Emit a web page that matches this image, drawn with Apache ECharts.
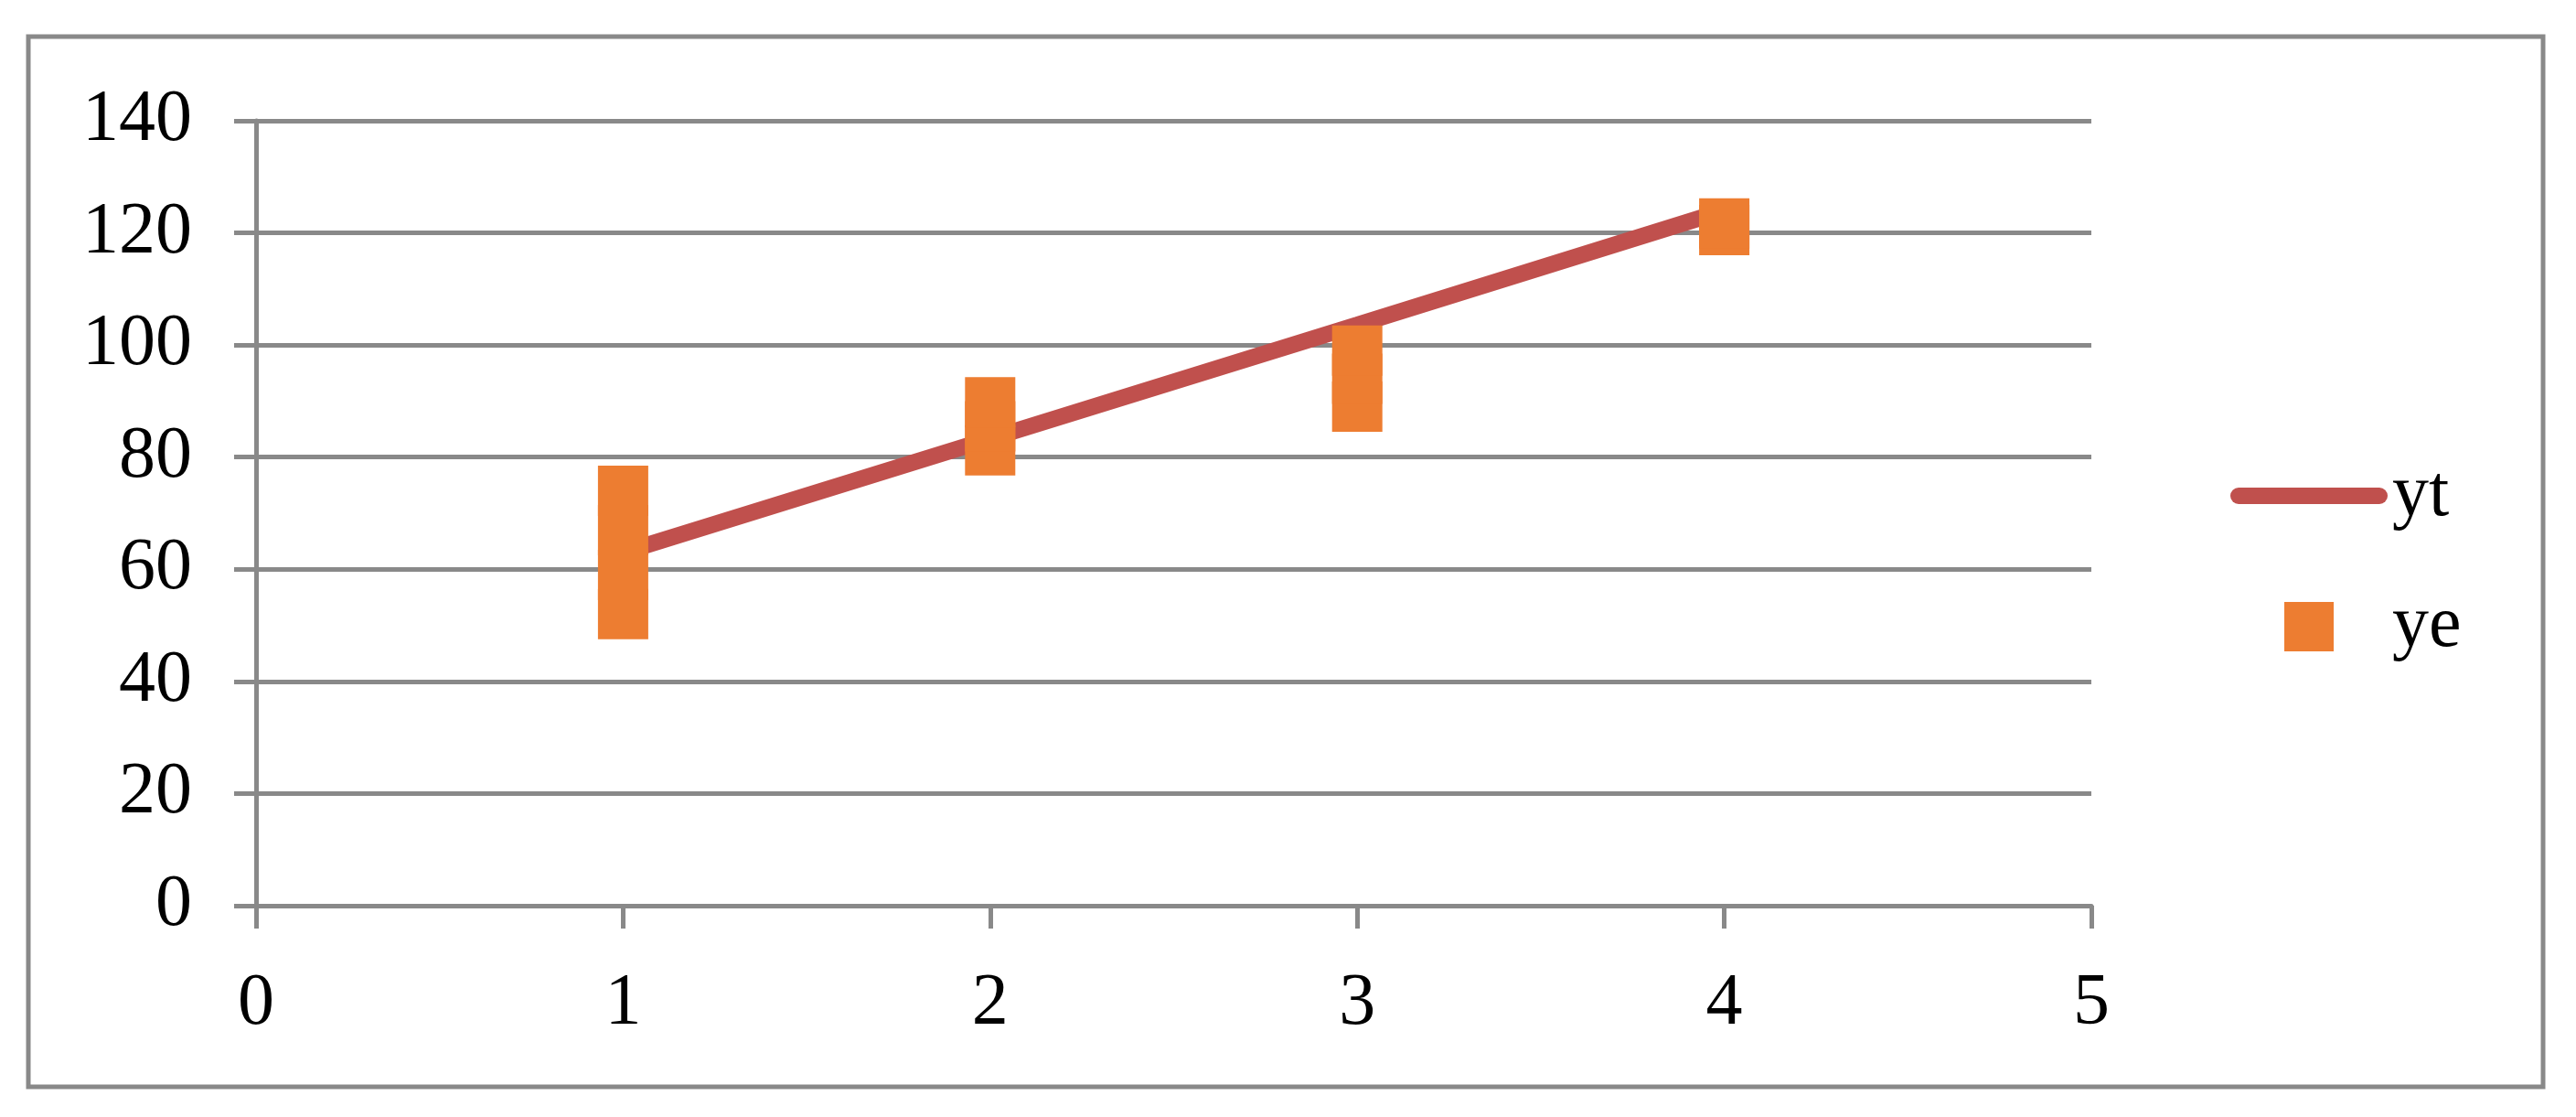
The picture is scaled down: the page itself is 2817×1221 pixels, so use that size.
<!DOCTYPE html>
<html>
<head>
<meta charset="utf-8">
<script src="https://cdn.jsdelivr.net/npm/echarts@6/dist/echarts.min.js"></script>
<style>
html,body{margin:0;padding:0;background:#fff;}
#chart{width:2817px;height:1221px;}
</style>
</head>
<body>
<div id="chart"></div>
<script>
// Data
const seriesNames = ['yt', 'ye'];
const ytX = [1, 2, 3, 4];
const ytValues = [63, 83.3, 103.6, 124];
const yeX = [1, 1, 1, 1, 2, 2, 2, 3, 3, 3, 4, 4];
const yeValues = [52, 59, 67, 74, 81.2, 85.5, 89.8, 89, 94, 99, 120.5, 121.7];
const xAxisRange = [0, 5, 1];     // min, max, interval
const yAxisRange = [0, 140, 20];  // min, max, interval

const FONT = '"Liberation Serif", "Times New Roman", serif';
const GRAY = '#898989';

const chart = echarts.init(document.getElementById('chart'), null, {renderer: 'canvas'});
chart.setOption({
  backgroundColor: '#ffffff',
  animation: false,
  graphic: [{
    type: 'rect',
    shape: {x: 31, y: 40, width: 2750, height: 1148},
    style: {fill: 'none', stroke: GRAY, lineWidth: 5},
    z: -1
  }],
  grid: {left: 280, top: 132, right: 530, bottom: 231, containLabel: false},
  legend: {
    orient: 'vertical',
    left: 2434,
    top: 497,
    itemWidth: 172,
    itemHeight: 54,
    itemGap: 63,
    symbolKeepAspect: true,
    textStyle: {fontFamily: FONT, fontSize: 80, color: '#000'},
    data: [
      {name: seriesNames[0], icon: 'path://M9,0L163,0A9,9 0 0 1 163,18L9,18A9,9 0 0 1 9,0Z'},
      {name: seriesNames[1], icon: 'path://M0,0L10,0L10,10L0,10Z'}
    ]
  },
  xAxis: {
    type: 'value',
    min: xAxisRange[0], max: xAxisRange[1], interval: xAxisRange[2],
    axisLine: {show: true, lineStyle: {color: GRAY, width: 5}},
    axisTick: {show: true, length: 25, lineStyle: {color: GRAY, width: 5}},
    splitLine: {show: false},
    axisLabel: {fontFamily: FONT, fontSize: 80, color: '#000', margin: 68}
  },
  yAxis: {
    type: 'value',
    min: yAxisRange[0], max: yAxisRange[1], interval: yAxisRange[2],
    axisLine: {show: true, lineStyle: {color: GRAY, width: 5}},
    axisTick: {show: true, length: 24, lineStyle: {color: GRAY, width: 5}},
    splitLine: {show: true, lineStyle: {color: GRAY, width: 5}},
    axisLabel: {fontFamily: FONT, fontSize: 80, color: '#000', margin: 70}
  },
  series: [
    {
      name: seriesNames[0],
      type: 'line',
      data: ytX.map((x, i) => [x, ytValues[i]]),
      showSymbol: false,
      symbol: 'none',
      lineStyle: {color: '#C0504D', width: 18, cap: 'round'},
      itemStyle: {color: '#C0504D'},
      z: 2
    },
    {
      name: seriesNames[1],
      type: 'scatter',
      data: yeX.map((x, i) => [x, yeValues[i]]),
      symbol: 'rect',
      symbolSize: 55,
      itemStyle: {color: '#ED7D31', opacity: 1},
      z: 3
    }
  ]
});
</script>
</body>
</html>
